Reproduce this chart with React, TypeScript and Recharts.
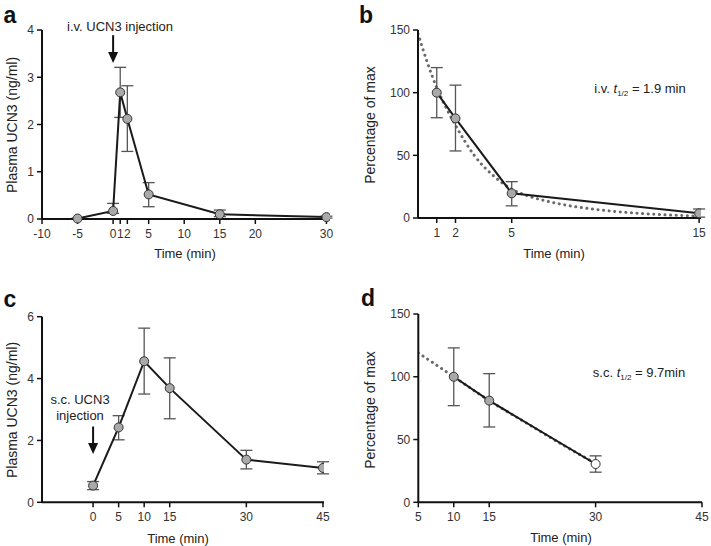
import React from "react";
import {
  ComposedChart,
  Line,
  XAxis,
  YAxis,
  ErrorBar,
  ReferenceLine,
} from "recharts";

const FONT = '"Liberation Sans", Arial, Helvetica, sans-serif';

// a: i.v. plasma UCN3
const aTime = [-5, 0, 1, 2, 5, 15, 30];
const aMean = [0.01, 0.17, 2.68, 2.12, 0.52, 0.1, 0.04];
const aErrLow = [0.01, 0.05, 0.53, 0.69, 0.26, 0.05, 0.02];
const aErrHigh = [0.01, 0.16, 0.53, 0.7, 0.25, 0.09, 0.02];
const aXTicks = [-10, -5, 0, 1, 2, 5, 10, 15, 20, 30];
const aYTicks = [0, 1, 2, 3, 4];

// b: i.v. percentage of max + fit
const bTime = [1, 2, 5, 15];
const bMean = [100, 79.5, 19.7, 3.7];
const bErrLow = [20, 26, 10, 3];
const bErrHigh = [20, 26.5, 9.3, 3.5];
const bFitTime = [0, 0.5, 1, 1.5, 2, 3, 4, 5, 6, 7, 8, 10, 12, 15];
const bFit = [147, 124, 104, 88, 74, 50, 34, 23, 17, 13, 10, 6, 3.5, 1.5];
const bXTicks = [1, 2, 5, 15];
const pctTicks = [0, 50, 100, 150];

// c: s.c. plasma UCN3
const cTime = [0, 5, 10, 15, 30, 45];
const cMean = [0.54, 2.42, 4.56, 3.69, 1.38, 1.11];
const cErrLow = [0.13, 0.4, 1.06, 0.99, 0.3, 0.19];
const cErrHigh = [0.13, 0.38, 1.07, 0.98, 0.3, 0.2];
const cXTicks = [0, 5, 10, 15, 30, 45];
const cYTicks = [0, 2, 4, 6];

// d: s.c. percentage of max + fit
const dTime = [10, 15, 30];
const dMean = [100, 81, 30.5];
const dErrLow = [23, 21, 6.5];
const dErrHigh = [23, 21.5, 6.5];
const dFitTime = [5, 10, 15, 20, 25, 30];
const dFit = [119, 100, 81, 64, 47, 31];
const dXTicks = [5, 10, 15, 30, 45];

const rows = (t: number[], v: number[], lo: number[], hi: number[]) =>
  t.map((x, i) => ({ t: x, v: v[i], err: [lo[i], hi[i]] }));
const fitRows = (t: number[], v: number[]) => t.map((x, i) => ({ t: x, v: v[i] }));

const tickStyle = { fill: "#333", fontSize: 12, fontFamily: FONT };
const axisLine = { stroke: "#111", strokeWidth: 2 };
const tickLine = { stroke: "#111", strokeWidth: 1.5 };

const Arrow = (p: any) => {
  const { x1, y1, x2, y2 } = p;
  return (
    <g>
      <line x1={x1} y1={y1} x2={x2} y2={y2 - 8} stroke="#111" strokeWidth={2} />
      <polygon points={`${x2},${y2} ${x2 - 5},${y2 - 11} ${x2 + 5},${y2 - 11}`} fill="#111" />
    </g>
  );
};

const makeDot = (openLast: boolean, n: number) => (p: any) => (
  <circle
    key={`d${p.index}`}
    cx={p.cx}
    cy={p.cy}
    r={4.5}
    fill={openLast && p.index === n - 1 ? "#fff" : "#a9a9a9"}
    stroke="#333"
    strokeWidth={1}
  />
);

interface PanelProps {
  left: number;
  top: number;
  width: number;
  height: number;
  margin: { top: number; right: number; bottom: number; left: number };
  yWidth: number;
  xHeight: number;
  xDomain: [number, number];
  xTicks: number[];
  yDomain: [number, number];
  yTicks: number[];
  data: { t: number; v: number; err: number[] }[];
  fit?: { t: number; v: number }[];
  arrow?: { x: number; y1: number; y2: number };
  openLast?: boolean;
}

function Panel(p: PanelProps) {
  return (
    <div style={{ position: "absolute", left: p.left, top: p.top }}>
      <ComposedChart width={p.width} height={p.height} margin={p.margin}>
        <XAxis
          type="number"
          dataKey="t"
          domain={p.xDomain}
          ticks={p.xTicks}
          interval={0}
          allowDataOverflow
          tick={tickStyle}
          axisLine={axisLine}
          tickLine={tickLine}
          tickSize={5}
          tickMargin={5}
          height={p.xHeight}
        />
        <YAxis
          type="number"
          domain={p.yDomain}
          ticks={p.yTicks}
          interval={0}
          tick={tickStyle}
          axisLine={axisLine}
          tickLine={tickLine}
          tickSize={5}
          tickMargin={3}
          width={p.yWidth}
        />
        {p.fit && (
          <Line
            data={p.fit}
            dataKey="v"
            type="monotone"
            stroke="#6a6a6a"
            strokeWidth={3}
            strokeDasharray="0.1 5.5"
            strokeLinecap="round"
            dot={false}
            isAnimationActive={false}
          />
        )}
        <Line
          data={p.data}
          dataKey="v"
          type="linear"
          stroke="#1a1a1a"
          strokeWidth={2}
          dot={makeDot(!!p.openLast, p.data.length)}
          isAnimationActive={false}
        >
          <ErrorBar dataKey="err" direction="y" width={6} stroke="#555" strokeWidth={1.3} />
        </Line>
        {p.arrow && (
          <ReferenceLine
            segment={[
              { x: p.arrow.x, y: p.arrow.y1 },
              { x: p.arrow.x, y: p.arrow.y2 },
            ]}
            shape={Arrow}
          />
        )}
      </ComposedChart>
    </div>
  );
}

const txt = (x: number, y: number, content: React.ReactNode, extra: React.CSSProperties = {}) => (
  <div
    style={{
      position: "absolute",
      left: x,
      top: y,
      transform: "translate(-50%, -50%)",
      whiteSpace: "nowrap",
      fontFamily: FONT,
      fontSize: 13,
      color: "#222",
      lineHeight: 1,
      ...extra,
    }}
  >
    {content}
  </div>
);

const yLabel = (x: number, y: number, s: string) =>
  txt(x, y, s, { transform: "translate(-50%, -50%) rotate(-90deg)", fontSize: 14 });

const letter = (x: number, y: number, s: string) =>
  txt(x, y, s, { fontSize: 23, fontWeight: "bold", color: "#111" });

const half = (pre: string, post: string) => (
  <span>
    {pre}
    <i>t</i>
    <sub style={{ fontSize: 8 }}>1/2</sub>
    {post}
  </span>
);

export default function App() {
  return (
    <div
      style={{
        position: "absolute",
        left: 0,
        top: 0,
        width: 711,
        height: 546,
        background: "#fff",
        overflow: "hidden",
      }}
    >
      <Panel
        left={0}
        top={0}
        width={355}
        height={270}
        margin={{ top: 30, right: 25, bottom: 21, left: 0 }}
        yWidth={42}
        xHeight={30}
        xDomain={[-10, 30.5]}
        xTicks={aXTicks}
        yDomain={[0, 4]}
        yTicks={aYTicks}
        data={rows(aTime, aMean, aErrLow, aErrHigh)}
        arrow={{ x: 0, y1: 3.89, y2: 3.3 }}
      />
      <Panel
        left={355}
        top={0}
        width={356}
        height={270}
        margin={{ top: 30, right: 10, bottom: 22, left: 0 }}
        yWidth={63}
        xHeight={30}
        xDomain={[0, 15.1]}
        xTicks={bXTicks}
        yDomain={[0, 150]}
        yTicks={pctTicks}
        data={rows(bTime, bMean, bErrLow, bErrHigh)}
        fit={fitRows(bFitTime, bFit)}
      />
      <Panel
        left={0}
        top={270}
        width={355}
        height={276}
        margin={{ top: 46.7, right: 31, bottom: 13.7, left: 0 }}
        yWidth={42}
        xHeight={30}
        xDomain={[-10, 45.2]}
        xTicks={cXTicks}
        yDomain={[0, 6]}
        yTicks={cYTicks}
        data={rows(cTime, cMean, cErrLow, cErrHigh)}
        arrow={{ x: 0, y1: 2.45, y2: 1.56 }}
      />
      <Panel
        left={355}
        top={270}
        width={356}
        height={276}
        margin={{ top: 44, right: 9, bottom: 13.7, left: 0 }}
        yWidth={63.3}
        xHeight={30}
        xDomain={[5, 45]}
        xTicks={dXTicks}
        yDomain={[0, 150]}
        yTicks={pctTicks}
        data={rows(dTime, dMean, dErrLow, dErrHigh)}
        fit={fitRows(dFitTime, dFit)}
        openLast
      />

      {letter(10, 15, "a")}
      {letter(366, 15, "b")}
      {letter(10, 299, "c")}
      {letter(368, 298, "d")}

      {yLabel(12, 125, "Plasma UCN3 (ng/ml)")}
      {yLabel(370, 125, "Percentage of max")}
      {yLabel(12, 410, "Plasma UCN3 (ng/ml)")}
      {yLabel(370, 410, "Percentage of max")}

      {txt(185, 253, "Time (min)")}
      {txt(554, 253, "Time (min)")}
      {txt(178, 538, "Time (min)")}
      {txt(561, 537, "Time (min)")}

      {txt(120, 26, "i.v. UCN3 injection")}
      {txt(640, 90, half("i.v. ", " = 1.9 min"))}
      {txt(80, 399, "s.c. UCN3")}
      {txt(80, 415, "injection")}
      {txt(639, 374, half("s.c. ", " = 9.7min"))}
    </div>
  );
}
